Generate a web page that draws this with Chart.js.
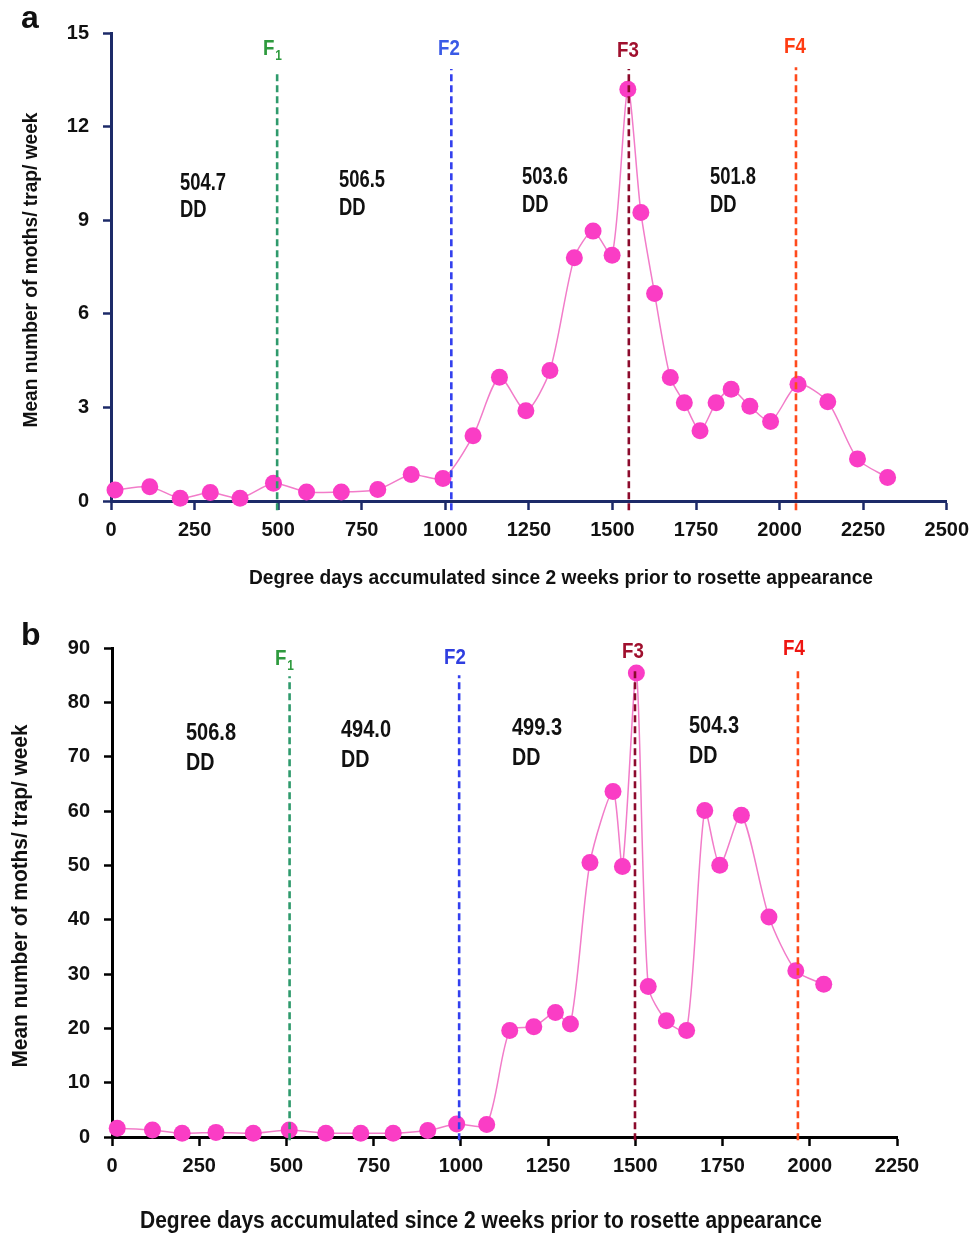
<!DOCTYPE html>
<html>
<head>
<meta charset="utf-8">
<script src="https://cdn.jsdelivr.net/npm/chart.js@4.4.0/dist/chart.umd.min.js"></script>
<style>
  body { margin: 0; background: #fff; }
  #wrap { position: relative; width: 977px; height: 1236px; }
  canvas { position: absolute; left: 0; }
</style>
</head>
<body>
<div id="wrap">
  <canvas id="chartA" width="977" height="610" style="top:0px"></canvas>
  <canvas id="chartB" width="977" height="626" style="top:610px"></canvas>
</div>
<script>
// panel a: degree days and moth catches
var ddA = [12, 116, 207, 297, 386, 486, 585, 689, 798, 898, 993, 1083, 1162, 1241, 1313, 1386,
  1442, 1499, 1546, 1585, 1626, 1673, 1715, 1762, 1810, 1855, 1911, 1973, 2055, 2144, 2233, 2323];
var mothsA = [0.35, 0.46, 0.09, 0.27, 0.09, 0.57, 0.29, 0.29, 0.37, 0.85, 0.72, 2.09, 3.97, 2.89, 4.18, 7.8,
  8.65, 7.88, 13.2, 9.25, 6.65, 3.96, 3.15, 2.25, 3.15, 3.58, 3.04, 2.55, 3.74, 3.18, 1.35, 0.75];
var flightsA = [497, 1018, 1549, 2049];
var intervalsA = ["504.7", "506.5", "503.6", "501.8"];

// panel b
var ddB = [15, 116, 201, 298, 405, 508, 613, 713, 806, 905, 988, 1074, 1140, 1209, 1271, 1314,
  1370, 1436, 1463, 1503, 1537, 1589, 1647, 1699, 1742, 1804, 1883, 1960, 2040];
var mothsB = [1.6, 1.3, 0.7, 0.85, 0.7, 1.3, 0.7, 0.7, 0.7, 1.2, 2.4, 2.3, 19.6, 20.3, 22.9, 20.8,
  50.5, 63.6, 49.8, 85.4, 27.7, 21.4, 19.6, 60.1, 50.0, 59.2, 40.5, 30.6, 28.1];
var flightsB = [509, 995, 1499, 1966];
var intervalsB = ["506.8", "494.0", "499.3", "504.3"];

var flightNames = ["F", "F2", "F3", "F4"];
var xTitle = "Degree days accumulated since 2 weeks prior to rosette appearance";
var yTitle = "Mean number of moths/ trap/ week";

var FONT = "'Liberation Sans', Arial, sans-serif";

// free text: panel letter, flight names, DD notes, axis titles (squeezed to look narrow)
function notesPlugin(items) {
  return {
    id: 'notes',
    afterDraw: function(chart) {
      var ctx = chart.ctx;
      items.forEach(function(it) {
        ctx.save();
        ctx.font = 'bold ' + it.size + 'px ' + FONT;
        ctx.fillStyle = it.color || '#111';
        var w = ctx.measureText(it.text).width;
        var sx = it.width ? it.width / w : (it.sx || 0.8);
        ctx.translate(it.x, it.y);
        if (it.rotate) ctx.rotate(it.rotate);
        ctx.scale(sx, 1);
        ctx.textAlign = it.align || 'left';
        ctx.textBaseline = it.baseline || 'alphabetic';
        ctx.fillText(it.text, 0, 0);
        if (it.sub) {
          ctx.font = 'bold ' + Math.round(it.size * 0.62) + 'px ' + FONT;
          ctx.fillText(it.sub, w + 1, 5);
        }
        ctx.restore();
      });
    }
  };
}

function buildChart(id, cfg) {
  var datasets = [{
    data: cfg.dd.map(function(d, i) { return { x: d, y: cfg.moths[i] }; }),
    showLine: true,
    borderColor: '#f27cc9',
    borderWidth: 1.5,
    backgroundColor: '#fa3dc5',
    pointBackgroundColor: '#fa3dc5',
    pointBorderColor: '#fa3dc5',
    pointBorderWidth: 0,
    pointRadius: 8.5,
    pointHoverRadius: 8.5,
    tension: 0.25,
    clip: false,
    order: 1
  }];
  cfg.flights.forEach(function(f, i) {
    datasets.push({
      data: [{ x: f, y: cfg.lineBottom }, { x: f, y: cfg.lineTop[i] }],
      showLine: true,
      borderColor: cfg.lineColors[i],
      borderDash: [7, 4],
      borderWidth: 2.6,
      pointRadius: 0,
      clip: false,
      order: 0
    });
  });

  new Chart(document.getElementById(id), {
    type: 'scatter',
    data: { datasets: datasets },
    options: {
      responsive: false,
      animation: false,
      events: [],
      layout: { padding: cfg.padding },
      plugins: { legend: { display: false }, tooltip: { enabled: false } },
      scales: {
        x: {
          type: 'linear',
          min: 0,
          max: cfg.xMax,
          afterFit: function(s) { s.height = cfg.xH; },
          ticks: { stepSize: 250, autoSkip: false, maxRotation: 0, color: '#111', padding: 8,
            callback: function(v) { return String(v); },
            font: { family: FONT, size: cfg.tickSize, weight: 'bold' } },
          grid: { drawOnChartArea: false, drawTicks: true, tickLength: 9, tickColor: cfg.axis, tickWidth: 2.5 },
          border: { color: cfg.axis, width: 3 }
        },
        y: {
          min: 0,
          max: cfg.yMax,
          afterFit: function(s) { s.width = cfg.yW; },
          ticks: { stepSize: cfg.yStep, color: '#111', padding: 14,
            callback: function(v) { return String(v); },
            font: { family: FONT, size: cfg.tickSize, weight: 'bold' } },
          grid: { drawOnChartArea: false, drawTicks: true, tickLength: 8, tickColor: cfg.axis, tickWidth: 2.5 },
          border: { color: cfg.axis, width: 3 }
        }
      }
    },
    plugins: [notesPlugin(cfg.notes)]
  });
}

buildChart('chartA', {
  dd: ddA, moths: mothsA, flights: flightsA,
  lineTop: [13.75, 13.85, 13.85, 13.9], lineBottom: -0.3,
  lineColors: ['#2f9a6c', '#3340ee', '#8c0a2c', '#ff4a1c'],
  axis: '#1c2a68',
  xMax: 2500, yMax: 15, yStep: 3, tickSize: 20,
  padding: { top: 33, right: 27, left: 0, bottom: 0 },
  xH: 109, yW: 111,
  notes: [
    { text: 'a', x: 21, y: 28, size: 32, sx: 1 },
    { text: flightNames[0], sub: '1', x: 263, y: 55, size: 22, sx: 0.85, color: '#2e9a3e' },
    { text: flightNames[1], x: 438, y: 55, size: 22, sx: 0.85, color: '#3a5ae6' },
    { text: flightNames[2], x: 617, y: 57, size: 22, sx: 0.85, color: '#a0102e' },
    { text: flightNames[3], x: 784, y: 53, size: 22, sx: 0.85, color: '#ff3c12' },
    { text: intervalsA[0], x: 180, y: 190, size: 23, width: 46 }, { text: 'DD', x: 180, y: 217, size: 23, sx: 0.8 },
    { text: intervalsA[1], x: 339, y: 187, size: 23, width: 46 }, { text: 'DD', x: 339, y: 215, size: 23, sx: 0.8 },
    { text: intervalsA[2], x: 522, y: 184, size: 23, width: 46 }, { text: 'DD', x: 522, y: 212, size: 23, sx: 0.8 },
    { text: intervalsA[3], x: 710, y: 184, size: 23, width: 46 }, { text: 'DD', x: 710, y: 212, size: 23, sx: 0.8 },
    { text: xTitle, x: 561, y: 584, size: 20.5, width: 624, align: 'center' },
    { text: yTitle, x: 31, y: 270, size: 21, width: 315, align: 'center', baseline: 'middle', rotate: -Math.PI / 2 }
  ]
});

buildChart('chartB', {
  dd: ddB, moths: mothsB, flights: flightsB,
  lineTop: [84.8, 85, 86, 85.7], lineBottom: -0.6,
  lineColors: ['#2f9a6c', '#3340ee', '#8c0a2c', '#ff4a1c'],
  axis: '#000',
  xMax: 2250, yMax: 90, yStep: 10, tickSize: 20,
  padding: { top: 38, right: 80, left: 0, bottom: 0 },
  xH: 99, yW: 112,
  notes: [
    { text: 'b', x: 21, y: 35, size: 32, sx: 1 },
    { text: flightNames[0], sub: '1', x: 275, y: 55, size: 22, sx: 0.85, color: '#2e9a3e' },
    { text: flightNames[1], x: 444, y: 54, size: 22, sx: 0.85, color: '#2f3ee0' },
    { text: flightNames[2], x: 622, y: 48, size: 22, sx: 0.85, color: '#a0102e' },
    { text: flightNames[3], x: 783, y: 45, size: 22, sx: 0.85, color: '#ee1510' },
    { text: intervalsB[0], x: 186, y: 130, size: 24, width: 50 }, { text: 'DD', x: 186, y: 160, size: 24, sx: 0.82 },
    { text: intervalsB[1], x: 341, y: 127, size: 24, width: 50 }, { text: 'DD', x: 341, y: 157, size: 24, sx: 0.82 },
    { text: intervalsB[2], x: 512, y: 125, size: 24, width: 50 }, { text: 'DD', x: 512, y: 155, size: 24, sx: 0.82 },
    { text: intervalsB[3], x: 689, y: 123, size: 24, width: 50 }, { text: 'DD', x: 689, y: 153, size: 24, sx: 0.82 },
    { text: xTitle, x: 481, y: 618, size: 23, width: 682, align: 'center' },
    { text: yTitle, x: 21, y: 286, size: 22, width: 343, align: 'center', baseline: 'middle', rotate: -Math.PI / 2 }
  ]
});
</script>
</body>
</html>
